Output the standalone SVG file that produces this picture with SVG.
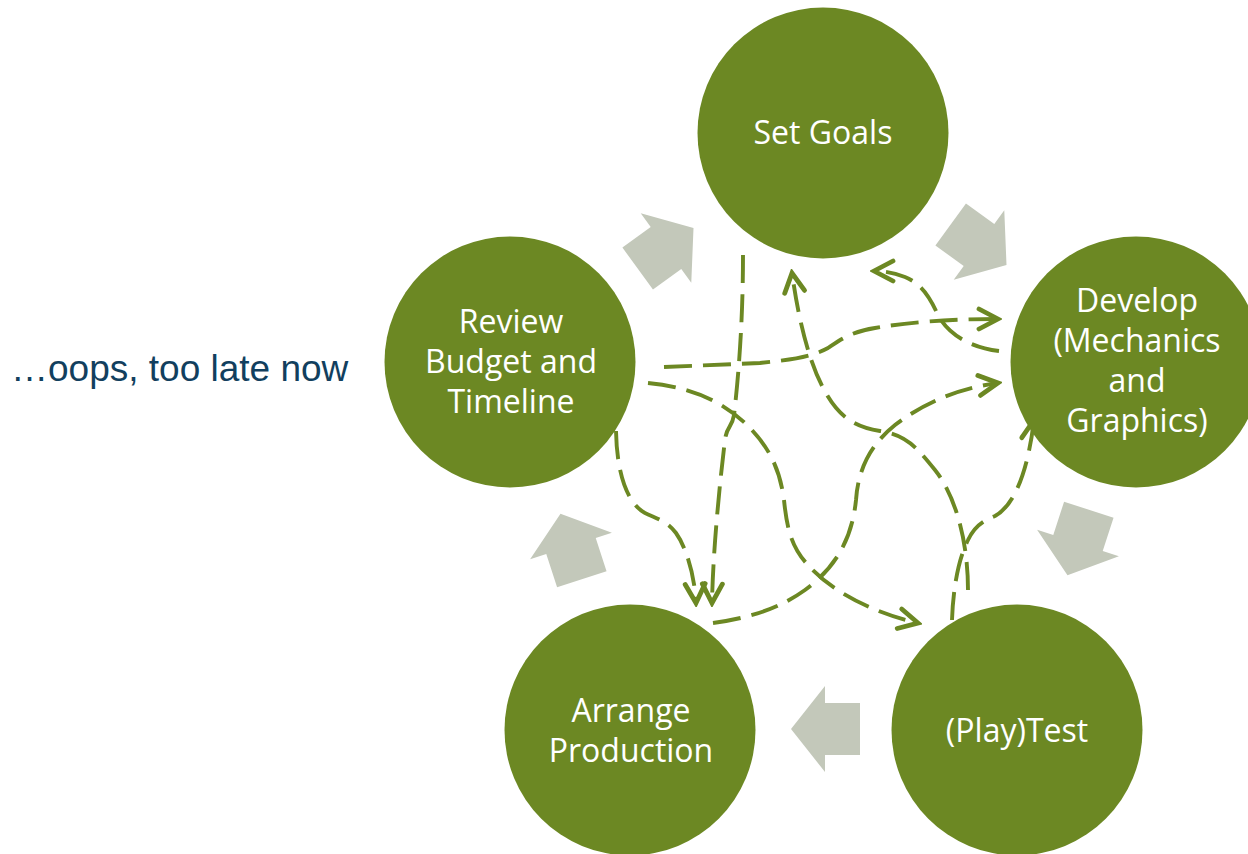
<svg xmlns="http://www.w3.org/2000/svg" width="1248" height="854" viewBox="0 0 1248 854">
<style>
.bg{fill:#ffffff}
.node{fill:#6C8823}
.lbl{fill:#ffffff;font-family:"Open Sans","Noto Sans",sans-serif;font-size:32px;text-anchor:middle}
.cyc{fill:#C3C8BA}
.dash{fill:none;stroke:#6C8823;stroke-width:3.9;stroke-dasharray:28 11;marker-end:url(#ah)}
.note{fill:#123F5E;font-family:"Liberation Sans",Arial,sans-serif;font-size:37px}
</style>
<defs>
<marker id="ah" markerUnits="userSpaceOnUse" viewBox="-24 -14 28 28" markerWidth="28" markerHeight="28" refX="0" refY="0" orient="auto">
<path d="M-19,-10 L0,0 L-19,10" fill="none" stroke="#6C8823" stroke-width="4.8" stroke-linejoin="miter" stroke-linecap="round"/>
</marker>
<polygon id="carrow" points="-35,-26 0,-26 0,-43 34,0 0,43 0,26 -35,26"/>
</defs>
<rect class="bg" x="0" y="0" width="1248" height="854"/>
<text class="note" x="11" y="381">…oops, too late now</text>
<g id="cycle-arrows" class="cyc">
<use href="#carrow" transform="translate(666,248) rotate(-36)"/>
<use href="#carrow" transform="translate(979,245) rotate(36)"/>
<use href="#carrow" transform="translate(1078,543) rotate(108)"/>
<use href="#carrow" transform="translate(825,729) rotate(180)"/>
<use href="#carrow" transform="translate(571,546) rotate(-108)"/>
</g>
<g id="connectors">
<path class="dash" d="M743,255 C743,330 737,390 734,415 C732,428 727,425 725,440 C720,480 713,550 712,603"/>
<path class="dash" d="M616,431 C617,480 630,505 645,513 C660,520 668,522 676,533 C688,550 695,580 696,603"/>
<path class="dash" d="M664,367 L760,363 C800,359 815,355 828,348 C840,340 850,332 875,328 C910,322 950,319 998,319"/>
<path class="dash" d="M999,351 C965,347 945,330 937,313 C930,298 922,284 905,277 C895,273 885,271 874,271"/>
<path class="dash" d="M968,590 C968,540 955,495 935,470 C915,445 905,435 880,431 C855,427 840,417 827,395 C812,370 800,330 792,273"/>
<path class="dash" d="M952,620 C953,590 958,560 968,540 C975,525 985,520 995,516 C1015,505 1028,470 1034,420"/>
<path class="dash" d="M648,383 C690,387 720,400 745,423 C770,447 780,470 784,500 C787,530 792,548 808,565 C830,590 870,612 918,623"/>
<path class="dash" d="M713,623 C750,618 780,608 805,590 C835,568 852,540 856,500 C858,470 870,445 895,425 C925,402 960,388 998,383"/>
</g>
<g id="set-goals">
<circle class="node" cx="823" cy="133" r="125.5"/>
<text class="lbl" x="823" y="144">Set Goals</text>
</g>
<g id="develop">
<circle class="node" cx="1136" cy="362" r="125.5"/>
<text class="lbl" x="1137" y="312">Develop</text>
<text class="lbl" x="1137" y="352">(Mechanics</text>
<text class="lbl" x="1137" y="392">and</text>
<text class="lbl" x="1137" y="432">Graphics)</text>
</g>
<g id="playtest">
<circle class="node" cx="1017" cy="730" r="125.5"/>
<text class="lbl" x="1017" y="742">(Play)Test</text>
</g>
<g id="arrange-production">
<circle class="node" cx="630" cy="730" r="125.5"/>
<text class="lbl" x="631" y="722">Arrange</text>
<text class="lbl" x="631" y="762">Production</text>
</g>
<g id="review">
<circle class="node" cx="510" cy="362" r="125.5"/>
<text class="lbl" x="511" y="333">Review</text>
<text class="lbl" x="511" y="373">Budget and</text>
<text class="lbl" x="511" y="413">Timeline</text>
</g>
</svg>
